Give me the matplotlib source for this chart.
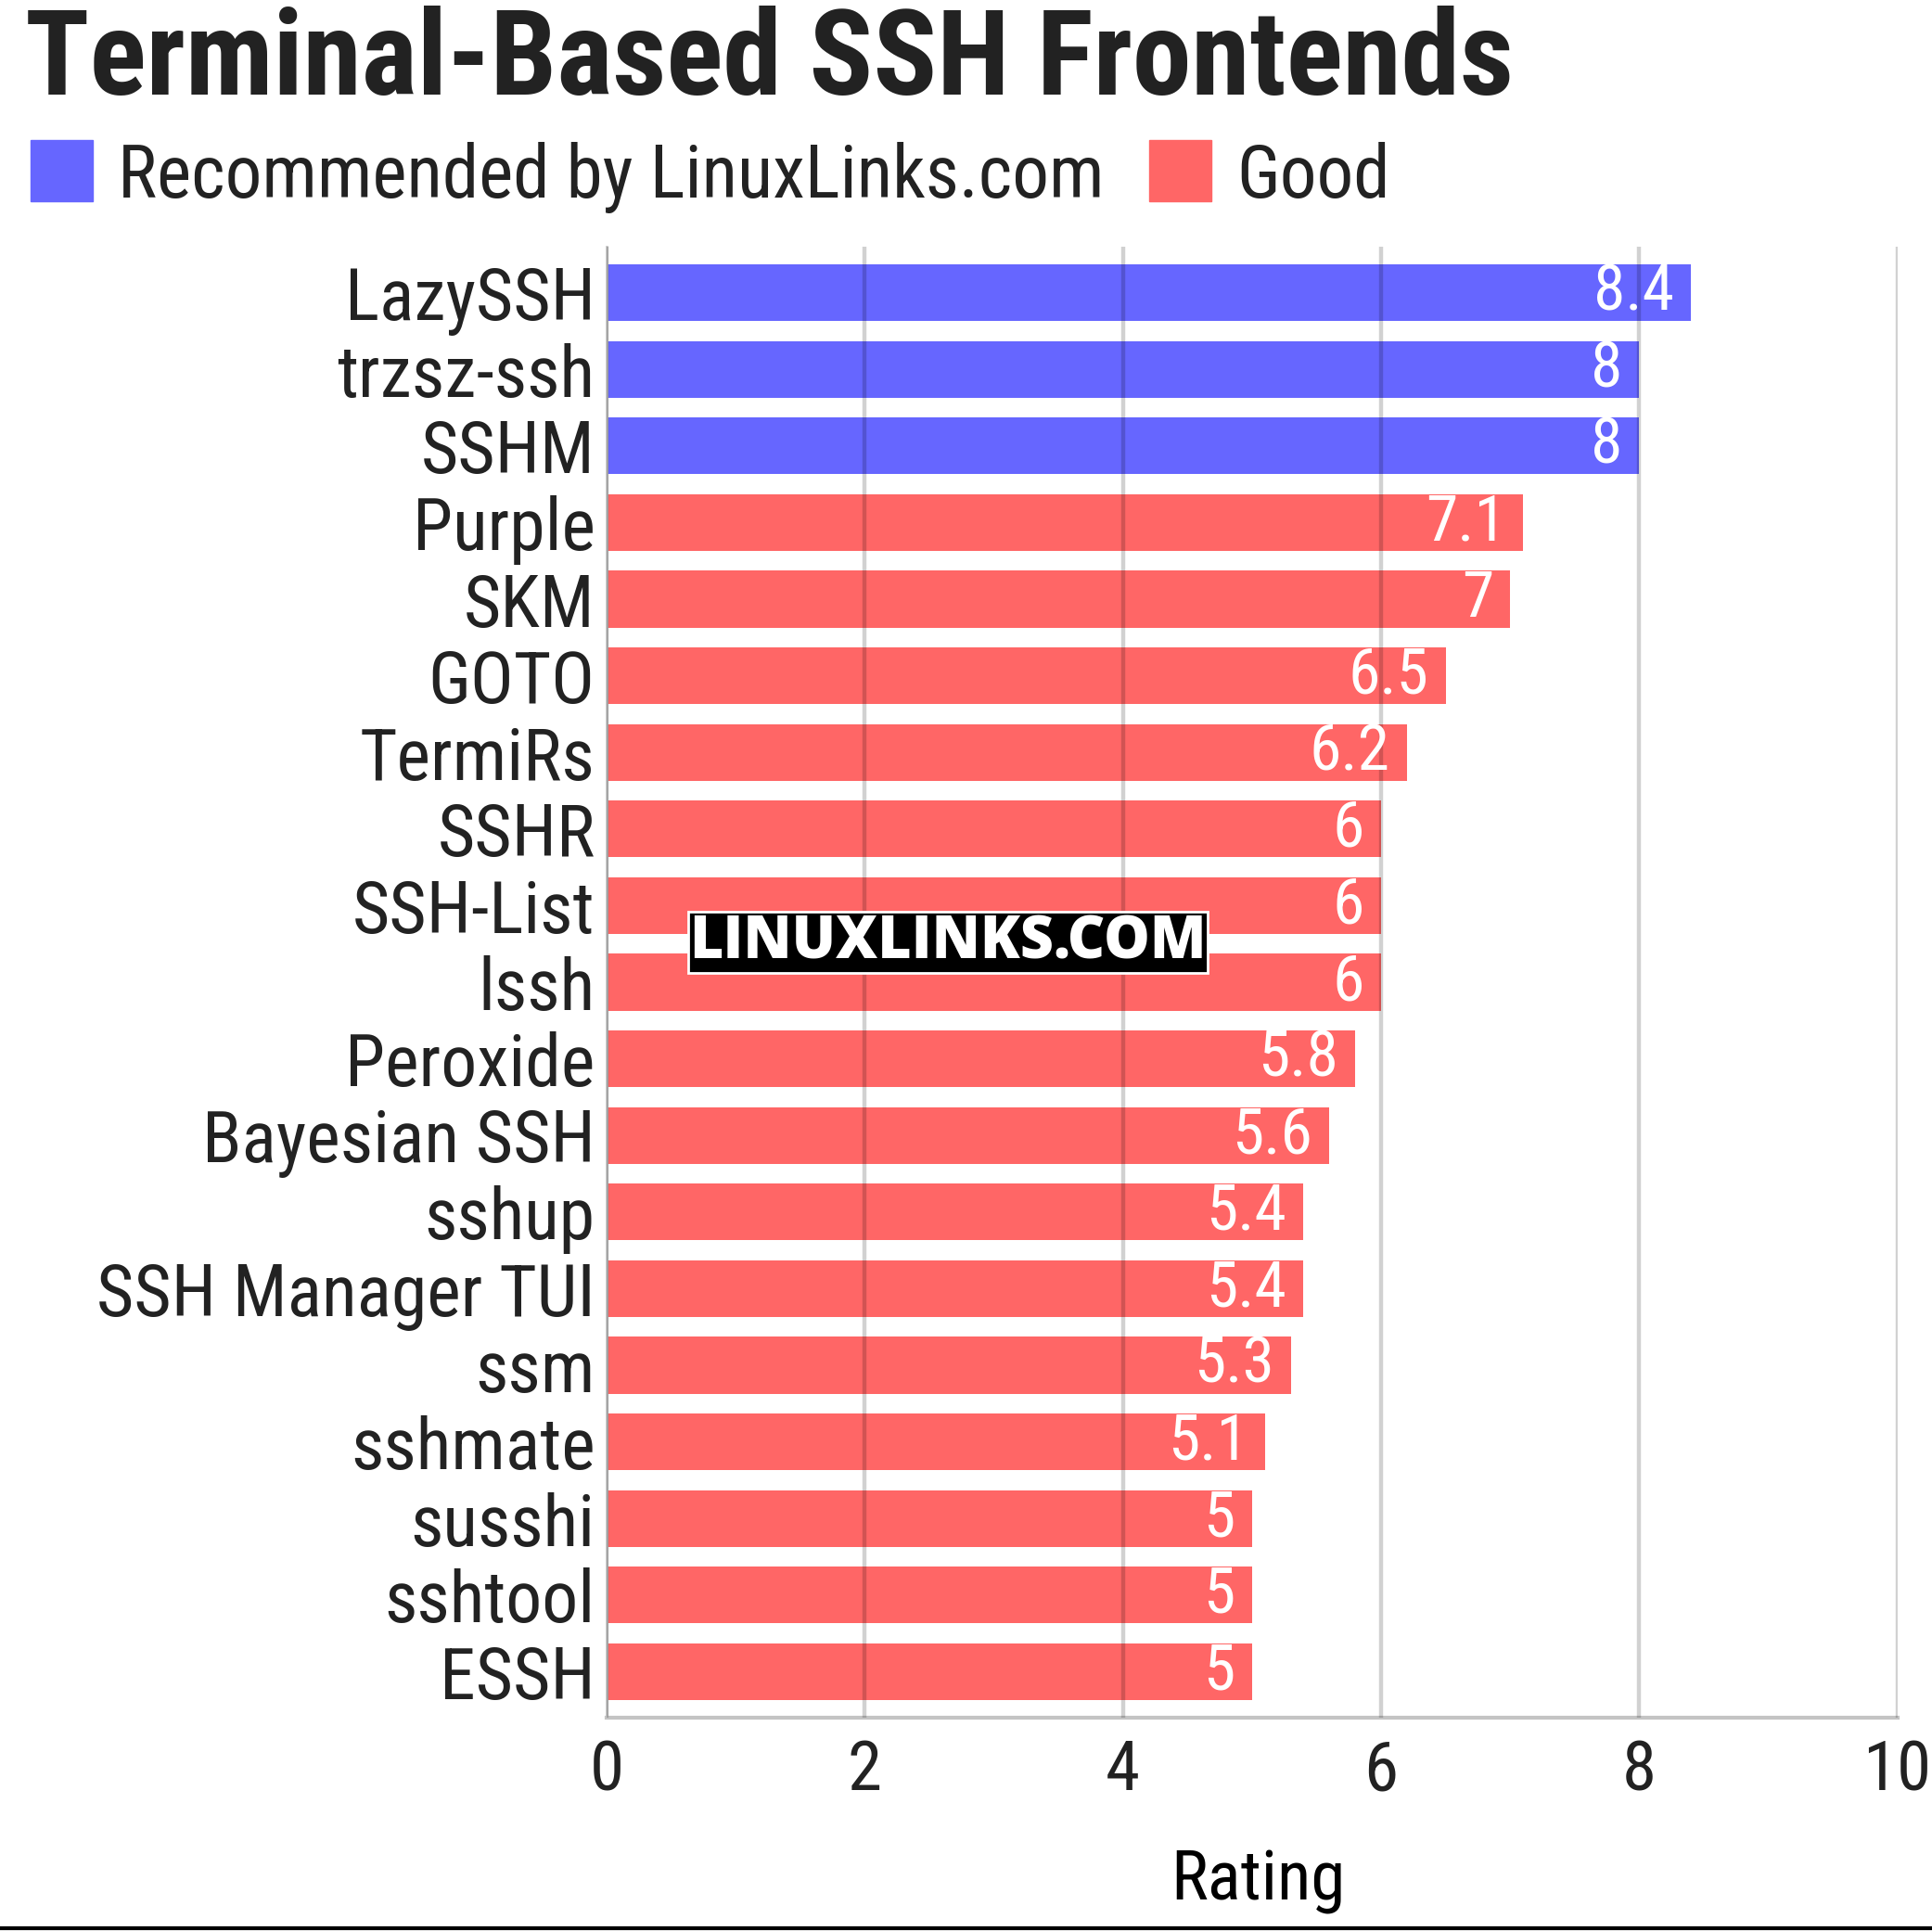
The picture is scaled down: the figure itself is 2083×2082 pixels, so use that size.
import matplotlib
matplotlib.use('Agg')
import matplotlib.pyplot as plt
from matplotlib import font_manager
from matplotlib.patches import Rectangle
from matplotlib.lines import Line2D

names = ['LazySSH', 'trzsz-ssh', 'SSHM', 'Purple', 'SKM', 'GOTO', 'TermiRs', 'SSHR',
         'SSH-List', 'lssh', 'Peroxide', 'Bayesian SSH', 'sshup', 'SSH Manager TUI',
         'ssm', 'sshmate', 'susshi', 'sshtool', 'ESSH']
ratings = [8.4, 8, 8, 7.1, 7, 6.5, 6.2, 6, 6, 6, 5.8, 5.6, 5.4, 5.4, 5.3, 5.1, 5, 5, 5]
groups = ['rec', 'rec', 'rec'] + ['good'] * 16
legend_labels = ['Recommended by LinuxLinks.com', 'Good']
xticks = [0, 2, 4, 6, 8, 10]

blue = '#6666ff'
red = '#ff6666'
txt = '#222222'

# pick a condensed family if there is one
have = set(f.name for f in font_manager.fontManager.ttflist)
fam = 'Roboto'
for f in ['Roboto Condensed', 'Liberation Sans Narrow']:
    if f in have:
        fam = f
        break
plt.rcParams['font.family'] = [fam, 'DejaVu Sans']

fig = plt.figure(figsize=(20.83, 20.82), dpi=100)
ax = fig.add_axes([0.314, 0.1105, 0.668, 0.7617])

cols = [blue if g == 'rec' else red for g in groups]
ypos = list(range(len(names)))
ax.barh(ypos, ratings, height=0.74, color=cols, zorder=1)

for y, v in zip(ypos, ratings):
    ax.annotate('{:g}'.format(v), (v, y), xytext=(-13, 0), textcoords='offset points',
                ha='right', va='center', color='white', fontsize=50, zorder=3)

ax.set_ylim(len(names) - 0.4, -0.6)
ax.set_xlim(0, 10)
ax.set_xticks(xticks)
ax.set_yticks(ypos)
ax.set_yticklabels(names)
ax.tick_params(axis='y', length=0, pad=9, labelsize=56, labelcolor=txt)
ax.tick_params(axis='x', length=0, pad=16, labelsize=54, labelcolor=txt)
ax.grid(axis='x', color='black', alpha=0.18, lw=3.2, zorder=2)
ax.set_axisbelow(False)
for s in ['top', 'right']:
    ax.spines[s].set_visible(False)
ax.spines['left'].set_color('#c8c8c8')
ax.spines['left'].set_linewidth(2)
ax.spines['bottom'].set_color('#c4c4c4')
ax.spines['bottom'].set_linewidth(3)
ax.set_xlabel('Rating', fontsize=54, color='black')
ax.xaxis.set_label_coords(0.505, -0.111)
ax.xaxis.label.set_va('center')

fig.text(0.013, 0.951, 'Terminal-Based SSH Frontends', fontsize=92, fontweight='bold',
         color=txt, va='baseline', ha='left')

# legend
lx = [0.016, 0.595]
for x0, lab, c in zip(lx, legend_labels, [blue, red]):
    fig.patches.append(Rectangle((x0, 0.8957), 0.032, 0.0317, transform=fig.transFigure,
                                 color=c))
    fig.text(x0 + 0.045, 0.8975, lab, fontsize=57, color=txt, va='baseline', ha='left')

fig.text(0.4906, 0.512, 'LINUXLINKS.COM', fontsize=45, fontweight='heavy', color='white',
         family=['Open Sans', 'DejaVu Sans'], ha='center', va='center',
         bbox=dict(facecolor='black', edgecolor='white', pad=1, lw=2), zorder=5)

fig.lines.append(Line2D([0, 1], [0.0015, 0.0015], transform=fig.transFigure,
                        color='black', lw=3))

fig.savefig('out.png', dpi=100)
